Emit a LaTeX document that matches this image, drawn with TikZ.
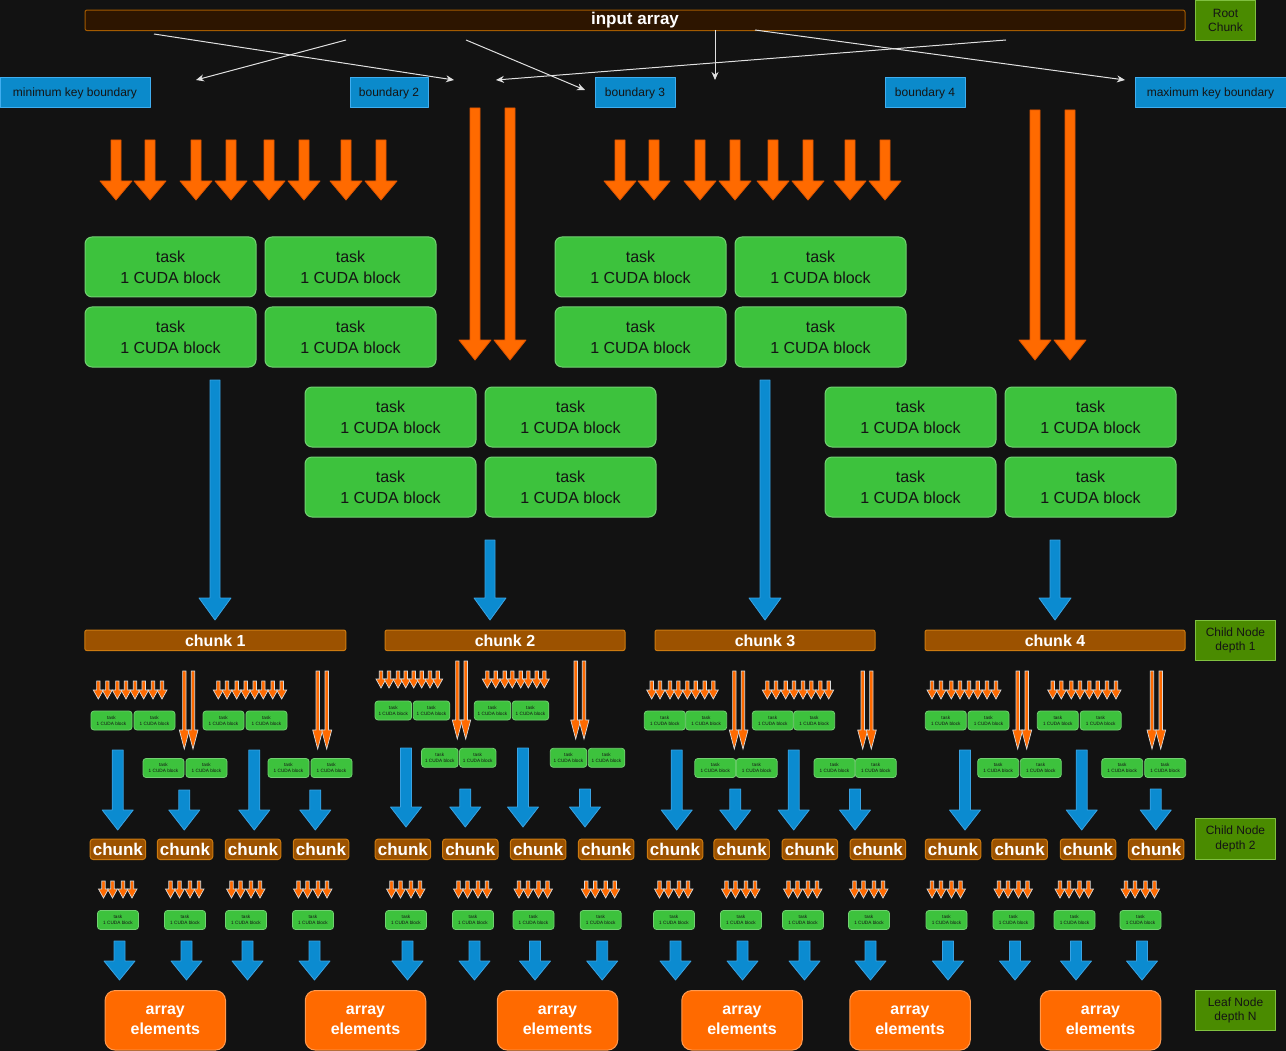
\documentclass[tikz,border=0pt]{standalone}
\usepackage{fontspec}
\setmainfont{Liberation Sans}
\usetikzlibrary{arrows.meta}
\definecolor{bgdark}{HTML}{121212}
\definecolor{inkdark}{HTML}{141414}
\definecolor{infill}{HTML}{2D1500}
\definecolor{inline}{HTML}{A35A00}
\definecolor{lvlfill}{HTML}{4A8B00}
\definecolor{lvlline}{HTML}{80C040}
\definecolor{bndfill}{HTML}{0B8ACB}
\definecolor{bndline}{HTML}{40AEF0}
\definecolor{taskfill}{HTML}{3DC23D}
\definecolor{taskline}{HTML}{72D072}
\definecolor{orfill}{HTML}{FF6A00}
\definecolor{orline}{HTML}{E05500}
\definecolor{blfill}{HTML}{0B8BD0}
\definecolor{blline}{HTML}{3AA3E3}
\definecolor{chfill}{HTML}{9C5200}
\definecolor{chline}{HTML}{CC7A10}
\definecolor{leafline}{HTML}{FF9A50}
% x, top, tip, half shaft, half head, head length
\newcommand{\blockarrow}[7][]{%
  \draw[#1] (#2-#5,#3) -- (#2+#5,#3) -- (#2+#5,#4-#7) -- (#2+#6,#4-#7)
    -- (#2,#4) -- (#2-#6,#4-#7) -- (#2-#5,#4-#7) -- cycle;}
\tikzset{
  inbar/.style={draw=inline, fill=infill, line width=1pt, rounded corners=2pt,
    minimum width=1100pt, minimum height=20.5pt, inner sep=0pt,
    font=\bfseries\fontsize{17}{19}\selectfont, text=white},
  lvl/.style={draw=lvlline, fill=lvlfill, line width=1pt, minimum width=80.5pt,
    minimum height=40.5pt, inner sep=0pt, align=center,
    font=\fontsize{12}{14.7}\selectfont, text=inkdark},
  bnd/.style={draw=bndline, fill=bndfill, line width=1pt, minimum height=30pt,
    inner sep=0pt, font=\fontsize{12}{14}\selectfont, text=inkdark},
  task/.style={draw=taskline, fill=taskfill, line width=1pt, rounded corners=7pt,
    minimum width=171pt, minimum height=60pt, inner sep=0pt, align=center,
    font=\fontsize{16}{21}\selectfont, text=inkdark},
  stask/.style={task, rounded corners=3pt, line width=0.8pt, minimum width=41pt,
    minimum height=19pt, font=\fontsize{4.7}{5.8}\selectfont},
  chunkbar/.style={draw=chline, fill=chfill, line width=1pt, rounded corners=2pt,
    minimum height=20.5pt, inner sep=0pt,
    font=\bfseries\fontsize{16}{18}\selectfont, text=white},
  cbox/.style={chunkbar, rounded corners=3pt, minimum width=55.5pt,
    font=\bfseries\fontsize{17}{19}\selectfont},
  leaf/.style={draw=leafline, fill=orfill, line width=1pt, rounded corners=10pt,
    minimum width=120.5pt, minimum height=59.5pt, inner sep=0pt, align=center,
    font=\bfseries\fontsize{16}{20.5}\selectfont, text=white},
  oarrow/.style={fill=orfill, draw=orline, line width=0.8pt},
  sarrow/.style={fill=orfill, draw=white!85!black, line width=0.7pt, line join=miter},
  barrow/.style={fill=blfill, draw=blline, line width=0.8pt},
  wline/.style={draw=white!88!black, line width=1pt, -{Stealth[length=8pt,width=7pt]}}
}
\begin{document}
\begin{tikzpicture}[x=1pt, y=-1pt, line join=round]
\fill[bgdark] (0,0) rectangle (1286,1051);
\useasboundingbox (0,0) rectangle (1286,1051);

% root chunk and boundaries
\node[inbar] (input) at (635,20.3) {input array};
\node[lvl, minimum width=60pt] (root) at (1225.5,20.3) {Root\\Chunk};
\node[bnd, minimum width=150pt] (bmin) at (75,93) {minimum key boundary};
\node[bnd, minimum width=78pt] (b2) at (389,93) {boundary 2};
\node[bnd, minimum width=80pt] (b3) at (635,93) {boundary 3};
\node[bnd, minimum width=80pt] (b4) at (925,93) {boundary 4};
\node[bnd, minimum width=151pt] (bmax) at (1210.5,93) {maximum key boundary};

\coordinate (w1s) at (154,34);  \coordinate (w1e) at (454,80);
\coordinate (w2s) at (346,40);  \coordinate (w2e) at (196,80);
\coordinate (w3s) at (466,40);  \coordinate (w3e) at (585,90);
\coordinate (w4s) at (1006,40); \coordinate (w4e) at (496,80);
\coordinate (w5s) at (715,30);  \coordinate (w5e) at (715,80);
\coordinate (w6s) at (755,30);  \coordinate (w6e) at (1125,80);
\foreach \i in {1,...,6} \draw[wline] (w\i s) -- (w\i e);

% tasks of the root
\foreach \x in {116,150,196,231,269,304,346,381,620,654,700,735,773,808,850,885}
  \blockarrow[oarrow]{\x}{140}{200}{5}{16}{19};
\foreach \x/\y in {475/108,510/108,1035/110,1070/110}
  \blockarrow[oarrow]{\x}{\y}{360}{5}{16}{20};
\foreach \cx/\cy [count=\i] in {170.5/267,350.5/267,170.5/337,350.5/337,
    390.5/417,570.5/417,390.5/487,570.5/487,
    640.5/267,820.5/267,640.5/337,820.5/337,
    910.5/417,1090.5/417,910.5/487,1090.5/487}
  \node[task] (task\i) at (\cx,\cy) {task\\1 CUDA block};
\foreach \x/\y in {215/380,490/540,765/380,1055/540}
  \blockarrow[barrow]{\x}{\y}{620}{5}{16}{22};

% depth 1
\node[chunkbar, minimum width=261pt] (chunk1) at (215.3,640.3) {chunk 1};
\node[chunkbar, minimum width=240pt] (chunk2) at (505,640.3) {chunk 2};
\node[chunkbar, minimum width=220pt] (chunk3) at (765,640.3) {chunk 3};
\node[chunkbar, minimum width=260pt] (chunk4) at (1055,640.3) {chunk 4};
\node[lvl] (lvl1) at (1235.5,640.3) {Child Node\\depth 1};

\foreach \x in {98.3,107.3,117.3,126,135,143.7,153,162,218.3,227,236.7,245.7,254.7,263.3,272.7,281.7,
    651.7,660,670,678.3,687.3,695.7,704.7,713.3,767.3,776,785.7,794,803,811.3,820.3,828.7,
    932,941,951.3,960,969,977.7,987,996,1052.7,1061.3,1071.3,1080,1089.3,1097.7,1107,1116}
  \blockarrow[sarrow]{\x}{681}{699}{1.7}{5}{9};
\foreach \x in {381,389,398,405.7,413.7,421.7,430,437.7,487.3,495.7,504.7,512.3,520.7,528.3,536.7,544.3}
  \blockarrow[sarrow]{\x}{671}{688}{1.7}{5}{9};
\foreach \x in {184.3,193,317.7,326.7,734.3,743,862.7,871.3,1017.7,1026.7,1152,1160.7}
  \blockarrow[sarrow]{\x}{671}{749}{1.7}{5}{19};
\foreach \x in {457.3,465.7,575.7,584}
  \blockarrow[sarrow]{\x}{661}{739}{1.7}{5}{19};

\foreach \cx/\cy [count=\i] in {111.5/720.5,154.5/720.5,223.5/720.5,266.5/720.5,
    163.5/768,206.5/768,288.5/768,331.5/768,
    664.8/720.5,706.2/720.5,772.8/720.5,814.2/720.5,
    715.3/768,756.7/768,834.5/768,875.8/768,
    945.8/720.5,988.5/720.5,1057.8/720.5,1100.7/720.5,
    998.2/768,1040.8/768,1122.2/768,1165.2/768}
  \node[stask] (sa\i) at (\cx,\cy) {task\\1 CUDA block};
\foreach \cx/\cy [count=\i] in {393.3/710.5,431.5/710.5,492.5/710.5,530.5/710.5,
    439.8/757.8,477.7/757.8,568.5/757.8,606.5/757.8}
  \node[stask, minimum width=36.5pt] (sb\i) at (\cx,\cy) {task\\1 CUDA block};

\foreach \x/\y in {117.7/750,184.3/790,254.3/750,315.3/790,676.7/750,735.3/789,
    793.7/750,855/789,965/750,1081.7/750,1155.7/789}
  \blockarrow[barrow]{\x}{\y}{830}{5.5}{15.5}{20};
\foreach \x/\y in {406/748,465.3/789,523/748,585/789}
  \blockarrow[barrow]{\x}{\y}{827}{5.5}{15.5}{20};

% depth 2
\foreach \x [count=\i] in {117.9,185,253,321,402.9,470.3,538.2,606.2,
    675,741.7,809.9,877.9,953,1019.7,1088,1156.2}
  \node[cbox] (sub\i) at (\x,849.3) {chunk};
\node[lvl] (lvl2) at (1235.5,839.2) {Child Node\\depth 2};

\foreach \c [count=\i] in {118,185,246,313,406,473,533.5,600.7,
    674,741,803,869,946.5,1013.5,1074.5,1140.5} {
  \foreach \d in {-14.5,-5.5,5,14} {
    \pgfmathsetmacro\xx{\c+\d}
    \blockarrow[sarrow]{\xx}{881}{898}{1.7}{5}{9};
  }
  \node[stask] (lt\i) at (\c,920) {task\\1 CUDA block};
  \pgfmathsetmacro\xb{\c+1.5}
  \blockarrow[barrow]{\xb}{941}{980}{5.5}{15.5}{19};
}

% leaves
\foreach \x [count=\i] in {165.3,365.5,557.5,742,910,1100.5}
  \node[leaf] (leaf\i) at (\x,1020.3) {array\\elements};
\node[lvl] (lvl3) at (1235.5,1010.3) {Leaf Node\\depth N};
\end{tikzpicture}
\end{document}
